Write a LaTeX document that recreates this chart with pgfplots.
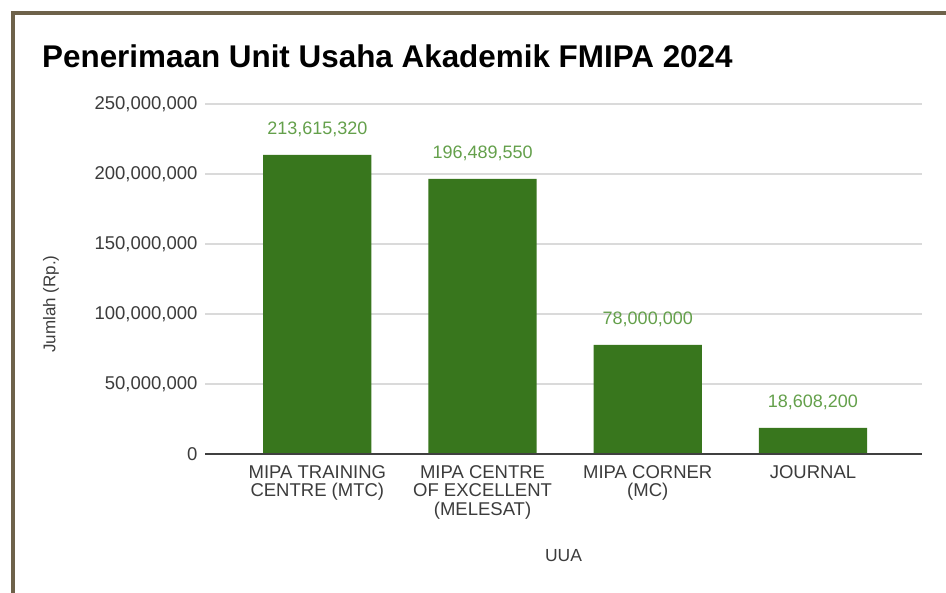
\documentclass[border=0pt]{standalone}
\usepackage{fontspec}
\setmainfont{Liberation Sans}
\usepackage{pgfplots}
\usepackage{pgfplotstable}
\pgfplotsset{compat=1.18}
\definecolor{barG}{RGB}{56,118,29}
\definecolor{lblG}{RGB}{100,160,75}
\definecolor{frameC}{RGB}{110,98,74}
\definecolor{gridC}{RGB}{218,218,218}
\definecolor{txtC}{RGB}{60,60,60}
\pgfplotstableread{
x y label
0 213615320 213,615,320
1 196489550 196,489,550
2 78000000 78,000,000
3 18608200 18,608,200
}\datatable
\begin{document}
\begin{tikzpicture}
\path[use as bounding box, fill=white] (0bp,0bp) rectangle (946bp,593bp);
\draw[frameC, line width=4bp] (12.5bp,-5bp) -- (12.5bp,580bp) -- (951bp,580bp);
\node[anchor=base west, inner sep=0pt, font=\fontsize{31.4bp}{36bp}\selectfont\bfseries] at (42bp,525bp) {Penerimaan Unit Usaha Akademik FMIPA 2024};
\begin{axis}[
  at={(205bp,139bp)}, anchor=south west, scale only axis,
  width=717bp, height=350bp,
  xmin=-0.68, xmax=3.66, ymin=0, ymax=250000000,
  axis line style={draw=none},
  major tick length=0pt,
  ymajorgrids, grid style={gridC, line width=1.2bp},
  ytick={0,50000000,100000000,150000000,200000000,250000000},
  yticklabels={0,{50,000,000},{100,000,000},{150,000,000},{200,000,000},{250,000,000}},
  scaled y ticks=false,
  yticklabel style={font=\fontsize{18.5bp}{20bp}\selectfont, text=txtC, xshift=-4bp},
  xtick={0,1,2,3},
  xticklabels={{MIPA TRAINING\\CENTRE (MTC)},{MIPA CENTRE\\OF EXCELLENT\\(MELESAT)},{MIPA CORNER\\(MC)},{JOURNAL}},
  xticklabel style={align=center, font=\fontsize{18.5bp}{18.5bp}\selectfont, text=txtC, yshift=-8bp},
  ylabel={Jumlah (Rp.)},
  ylabel style={at={(axis description cs:-0.2148,0.4286)}, anchor=center, font=\fontsize{17bp}{20bp}\selectfont, text=txtC},
  xlabel={UUA},
  xlabel style={at={(axis description cs:0.5,-0.291)}, anchor=center, font=\fontsize{17.5bp}{20bp}\selectfont, text=txtC},
  ybar, bar width=0.655,
  point meta=explicit symbolic,
  nodes near coords={\pgfplotspointmeta},
  nodes near coords style={anchor=base, inner sep=0pt, yshift=20bp, font=\fontsize{18bp}{20bp}\selectfont, text=lblG},
  clip=false,
]
\addplot[fill=barG, draw=none] table[x=x, y=y, meta=label] {\datatable};
\draw[black!75, line width=1.5bp] (axis cs:-0.68,0) -- (axis cs:3.66,0);
\end{axis}
\end{tikzpicture}
\end{document}
